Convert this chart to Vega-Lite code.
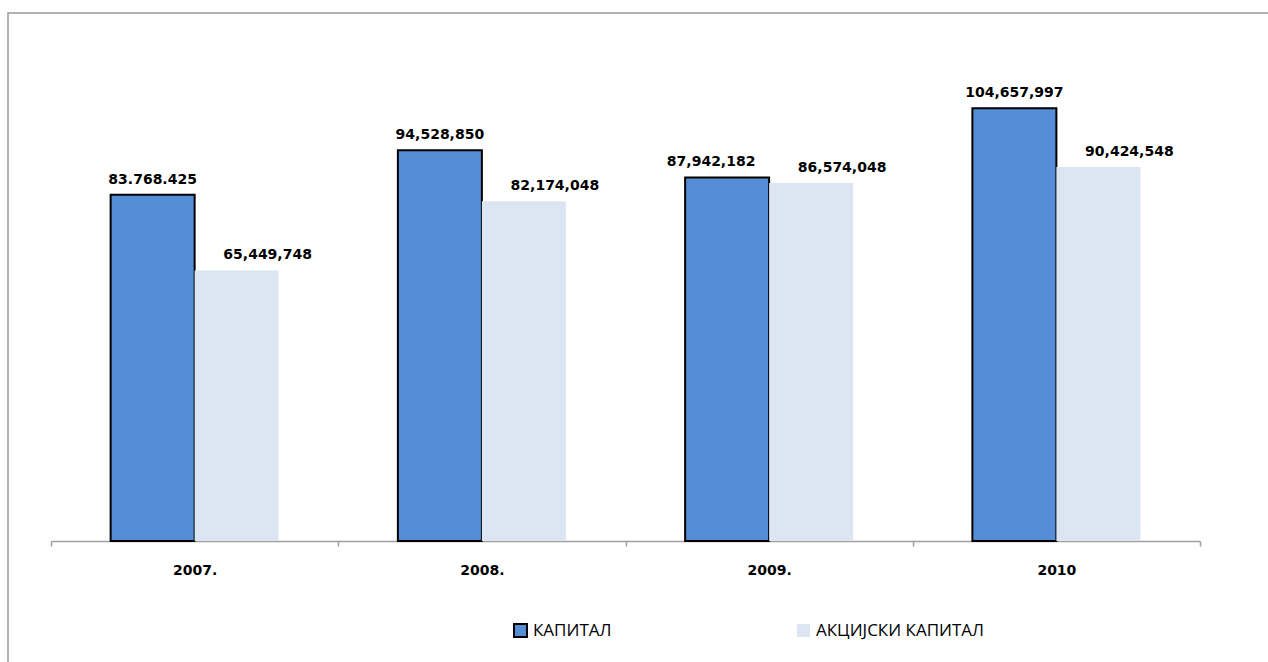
{
  "$schema": "https://vega.github.io/schema/vega-lite/v6.json",
  "width": 1262,
  "height": 660,
  "autosize": {"type": "none"},
  "padding": {"left": 8, "top": 13, "right": 0, "bottom": 0},
  "background": "white",
  "config": {
    "view": {"stroke": "#9a9a9a", "strokeWidth": 1.5},
    "font": "DejaVu Sans"
  },
  "data": {
    "values": [
      {"year": "2007.", "series": "КАПИТАЛ", "value": 83768425, "label": "83.768.425"},
      {"year": "2007.", "series": "АКЦИЈСКИ КАПИТАЛ", "value": 65449748, "label": "65,449,748"},
      {"year": "2008.", "series": "КАПИТАЛ", "value": 94528850, "label": "94,528,850"},
      {"year": "2008.", "series": "АКЦИЈСКИ КАПИТАЛ", "value": 82174048, "label": "82,174,048"},
      {"year": "2009.", "series": "КАПИТАЛ", "value": 87942182, "label": "87,942,182"},
      {"year": "2009.", "series": "АКЦИЈСКИ КАПИТАЛ", "value": 86574048, "label": "86,574,048"},
      {"year": "2010", "series": "КАПИТАЛ", "value": 104657997, "label": "104,657,997"},
      {"year": "2010", "series": "АКЦИЈСКИ КАПИТАЛ", "value": 90424548, "label": "90,424,548"}
    ]
  },
  "encoding": {
    "x": {
      "field": "year",
      "type": "nominal",
      "sort": null,
      "scale": {"range": [43, 1192], "paddingInner": 0, "paddingOuter": 0},
      "axis": {
        "title": null,
        "orient": "bottom",
        "offset": -132,
        "tickBand": "extent",
        "domainColor": "#a0a0a0",
        "domainWidth": 1.5,
        "tickColor": "#a0a0a0",
        "tickWidth": 1.5,
        "tickSize": 5,
        "labelFont": "DejaVu Sans",
        "labelFontWeight": "bold",
        "labelFontSize": 14,
        "labelColor": "black",
        "labelPadding": 17,
        "labelAngle": 0,
        "grid": false
      }
    },
    "xOffset": {
      "field": "series",
      "type": "nominal",
      "sort": ["КАПИТАЛ", "АКЦИЈСКИ КАПИТАЛ"],
      "scale": {"paddingInner": 0, "paddingOuter": 0.71}
    },
    "y": {
      "field": "value",
      "type": "quantitative",
      "scale": {"domain": [0, 127700000], "range": [528, 0]},
      "axis": null
    }
  },
  "layer": [
    {
      "mark": {"type": "bar", "strokeWidth": 2},
      "encoding": {
        "color": {
          "field": "series",
          "type": "nominal",
          "scale": {"domain": ["КАПИТАЛ", "АКЦИЈСКИ КАПИТАЛ"], "range": ["#558ED5", "#DCE6F2"]},
          "legend": {
            "orient": "none",
            "legendX": 504,
            "legendY": 609,
            "direction": "horizontal",
            "title": null,
            "symbolType": "square",
            "symbolSize": 169,
            "symbolStrokeWidth": 2,
            "labelFont": "Open Sans",
            "labelFontSize": 17,
            "labelColor": "black",
            "labelOffset": 4,
            "labelLimit": 400,
            "columnPadding": 181,
            "padding": 0
          }
        },
        "stroke": {
          "field": "series",
          "type": "nominal",
          "scale": {"domain": ["КАПИТАЛ", "АКЦИЈСКИ КАПИТАЛ"], "range": ["black", "transparent"]},
          "legend": {
            "orient": "none",
            "legendX": 504,
            "legendY": 609,
            "direction": "horizontal",
            "title": null,
            "symbolType": "square",
            "symbolSize": 169,
            "symbolStrokeWidth": 2,
            "labelFont": "Open Sans",
            "labelFontSize": 17,
            "labelColor": "black",
            "labelOffset": 4,
            "labelLimit": 400,
            "columnPadding": 181,
            "padding": 0
          }
        }
      }
    },
    {
      "transform": [{"filter": "datum.series === 'КАПИТАЛ' && datum.year !== '2009.'"}],
      "mark": {"type": "text", "baseline": "alphabetic", "dy": -11, "font": "DejaVu Sans", "fontWeight": "bold", "fontSize": 14, "color": "black"},
      "encoding": {"text": {"field": "label"}}
    },
    {
      "transform": [{"filter": "datum.series === 'КАПИТАЛ' && datum.year === '2009.'"}],
      "mark": {"type": "text", "baseline": "alphabetic", "dy": -11, "dx": -16, "font": "DejaVu Sans", "fontWeight": "bold", "fontSize": 14, "color": "black"},
      "encoding": {"text": {"field": "label"}}
    },
    {
      "transform": [{"filter": "datum.series === 'АКЦИЈСКИ КАПИТАЛ'"}],
      "mark": {"type": "text", "baseline": "alphabetic", "dy": -11, "dx": 31, "font": "DejaVu Sans", "fontWeight": "bold", "fontSize": 14, "color": "black"},
      "encoding": {"text": {"field": "label"}}
    }
  ]
}
